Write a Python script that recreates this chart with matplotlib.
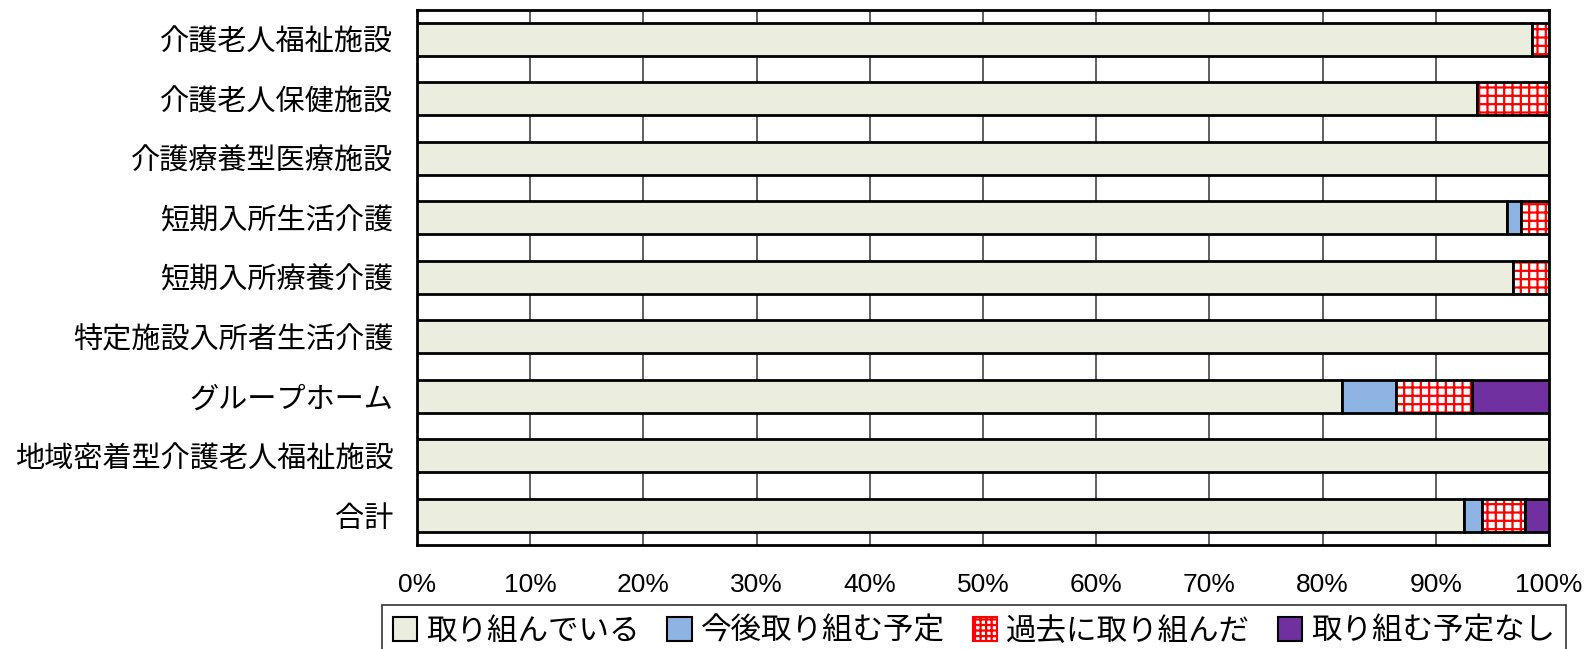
import matplotlib.pyplot as plt
import numpy as np
from matplotlib.patches import Patch

plt.rcParams['font.family'] = ['Noto Sans CJK JP', 'DejaVu Sans']
plt.rcParams['hatch.linewidth'] = 1.6

# data (percent of facilities), top to bottom
categories = ['介護老人福祉施設', '介護老人保健施設', '介護療養型医療施設', '短期入所生活介護',
              '短期入所療養介護', '特定施設入所者生活介護', 'グループホーム',
              '地域密着型介護老人福祉施設', '合計']
doing = [98.5, 93.6, 100.0, 96.3, 96.8, 100.0, 81.7, 100.0, 92.5]
planned = [0.0, 0.0, 0.0, 1.2, 0.0, 0.0, 4.8, 0.0, 1.6]
past = [1.5, 6.4, 0.0, 2.5, 3.2, 0.0, 6.7, 0.0, 3.8]
no_plan = [0.0, 0.0, 0.0, 0.0, 0.0, 0.0, 6.8, 0.0, 2.1]
series_names = ['取り組んでいる', '今後取り組む予定', '過去に取り組んだ', '取り組む予定なし']

fig = plt.figure(figsize=(15.85, 6.49), dpi=100)
ax = fig.add_axes([417/1585, 1-545/649, (1549-417)/1585, (545-9.5)/649])

y = np.arange(len(categories))
h = 0.55
left = np.zeros(len(categories))

ax.barh(y, doing, h, left=left, color='#EBEEDF', edgecolor='black', linewidth=2, zorder=3)
left += doing
ax.barh(y, planned, h, left=left, color='#8EB4E3', edgecolor='black', linewidth=2, zorder=3)
left += planned
# hatch in red, outline drawn separately in black
ax.barh(y, past, h, left=left, color='white', edgecolor='red', hatch='++', linewidth=0, zorder=3)
ax.barh(y, past, h, left=left, color='none', edgecolor='black', linewidth=2, zorder=4)
left += past
ax.barh(y, no_plan, h, left=left, color='#7030A0', edgecolor='black', linewidth=2, zorder=3)

ax.set_xlim(0, 100)
ax.set_ylim(len(categories) - 0.5, -0.5)
ax.set_xticks(np.arange(0, 101, 10))
ax.set_xticklabels([f'{v}%' for v in range(0, 101, 10)], family=['Liberation Sans Narrow', 'Liberation Sans'], fontsize=19)
ax.set_yticks(y)
ax.set_yticklabels(categories, fontsize=21)
ax.tick_params(axis='both', length=0)
ax.tick_params(axis='y', pad=17)
ax.tick_params(axis='x', pad=20)
ax.grid(axis='x', color='#444444', linewidth=1.2, zorder=0)
for s in ax.spines.values():
    s.set_linewidth(2)

# legend, box runs past the bottom edge like the original
handles = [Patch(facecolor='#EBEEDF', edgecolor='black', linewidth=1.5),
           Patch(facecolor='#8EB4E3', edgecolor='black', linewidth=1.5),
           Patch(facecolor='white', edgecolor='red', hatch='+++', linewidth=1.5),
           Patch(facecolor='#7030A0', edgecolor='black', linewidth=1.5)]
leg = fig.legend(handles, series_names, loc='upper left', ncol=4, mode='expand',
                 bbox_to_anchor=(382/1585, 1-605/649, (1566-382)/1585, 0),
                 fontsize=22, frameon=True, fancybox=False, edgecolor='black',
                 handlelength=0.8, handleheight=0.8, handletextpad=0.3,
                 borderaxespad=0, borderpad=0.35)
leg.get_frame().set_linewidth(1.2)

fig.savefig('out.png', dpi=100)
